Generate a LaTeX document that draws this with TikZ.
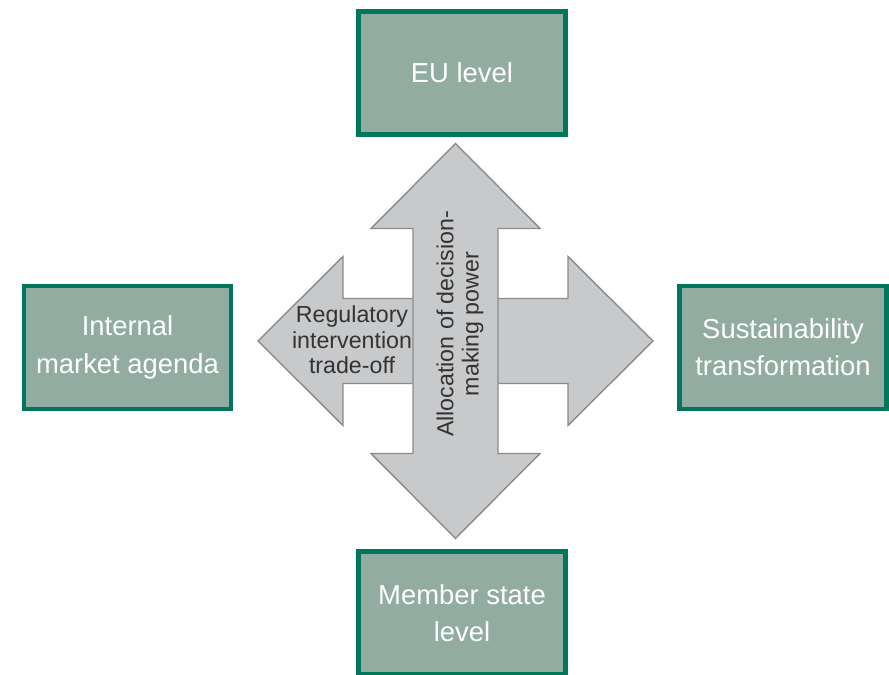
\documentclass[tikz,border=0pt]{standalone}
\usepackage{fontspec}
\setmainfont{Liberation Sans}
\usepackage{tikz}
\usetikzlibrary{positioning}
\definecolor{boxfill}{HTML}{93ACA1}
\definecolor{boxline}{HTML}{00765A}
\definecolor{arrowfill}{HTML}{C8C9CB}
\definecolor{arrowline}{HTML}{8A8B8D}
\newcommand{\boxfont}{\fontsize{19.5}{26.5}\selectfont}
\newcommand{\arrowfont}{\fontsize{16.5}{18}\selectfont}

\begin{document}
\begin{tikzpicture}[x=0.025cm, y=-0.025cm]
        \tikzset{
           box/.style={
                        rectangle,
                        draw=boxline,
                        line width=3.5pt,
                        fill=boxfill,
                        text=white,
                        align=center,
                        font=\boxfont,
                        minimum width=5.175cm,
                        minimum height=3.075cm
                       },
           bigarrow/.style={
                        draw=arrowline,
                        line width=1pt,
                        fill=arrowfill,
                        line join=miter
                       },
           label/.style={
                        align=center,
                        text=black!80,
                        font=\arrowfont,
                        inner sep=0pt
                       },
                 };
    \useasboundingbox (0,0) rectangle (889,675);
    %--------------------
        \coordinate (centre) at (455.5,341);
        \node[box]      (eu)        at (462,73)    {EU level};
        \node[box]      (internal)  at (127.5,347.5) {Internal\\market agenda};
        \node[box]      (sustain)   at (783,347.5) {Sustainability\\transformation};
        \node[box]      (member)    at (462,613)   {Member state\\level};
    %--------------------
        \begin{scope}[shift={(centre)}]
          \foreach \ang in {0,90}
            \draw[bigarrow, rotate=\ang] (-197.5,0) -- (-112.5,-84.5) -- (-112.5,-42.5)
                -- (112.5,-42.5) -- (112.5,-84.5) -- (197.5,0) -- (112.5,84.5)
                -- (112.5,42.5) -- (-112.5,42.5) -- (-112.5,84.5) -- cycle;
        \end{scope}
    %--------------------
        \node[label]     (tradeoff)  at (352,340)  {Regulatory\\intervention\\trade-off};
        \node[label, rotate=90] (allocation) at (460,324) {Allocation of decision-\\making power};
    \end{tikzpicture}
\end{document}
